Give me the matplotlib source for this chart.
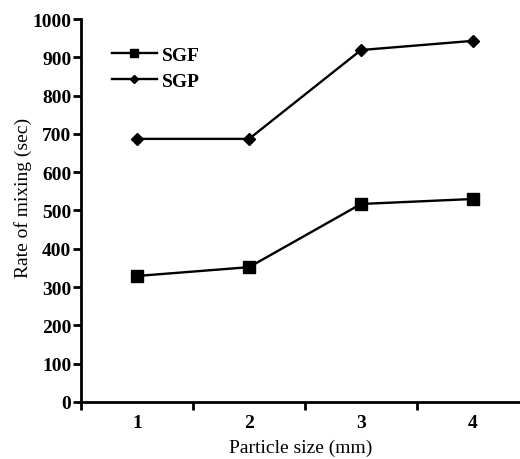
import matplotlib
matplotlib.use("Agg")
import matplotlib.pyplot as plt

categories = [1, 2, 3, 4]
sgf = [329, 352, 517, 530]
sgp = [687, 687, 919, 943]
yticks = [0, 100, 200, 300, 400, 500, 600, 700, 800, 900, 1000]

plt.rcParams['font.family'] = ['Liberation Serif', 'DejaVu Serif']
plt.rcParams['font.weight'] = 'bold'

fig = plt.figure(figsize=(5.2, 4.6), dpi=100)
ax = fig.add_axes([0.156, 0.124, 0.844, 0.8325])

ax.plot(categories, sgf, color='black', lw=1.7, marker='s', ms=8, label='SGF')
ax.plot(categories, sgp, color='black', lw=1.7, marker='D', ms=6, label='SGP')

ax.set_xlim(0.5, 4.42)
ax.set_ylim(0, 1000)
ax.set_yticks(yticks)
ax.set_xticks([0.5, 1.5, 2.5, 3.5])
ax.set_xticklabels([])
ax.set_xticks(categories, minor=True)
ax.set_xticklabels([str(c) for c in categories], minor=True)
ax.tick_params(axis='x', which='minor', length=0, pad=9, labelsize=14)
ax.tick_params(axis='x', which='major', length=6, width=2, direction='out')
ax.tick_params(axis='y', length=6, width=2, direction='out', labelsize=14, pad=1)

for s in ['top', 'right']:
    ax.spines[s].set_visible(False)
for s in ['left', 'bottom']:
    ax.spines[s].set_linewidth(2)

ax.set_xlabel('Particle size (mm)', fontsize=14, labelpad=5)
ax.set_ylabel('Rate of mixing (sec)', fontsize=14, labelpad=0, y=0.535)

ax.legend(loc='upper left', bbox_to_anchor=(0.03, 0.975), frameon=False,
          fontsize=14, handlelength=2.3, handletextpad=0.3, labelspacing=0.45,
          markerscale=0.7)

fig.savefig('out.png', dpi=100)
